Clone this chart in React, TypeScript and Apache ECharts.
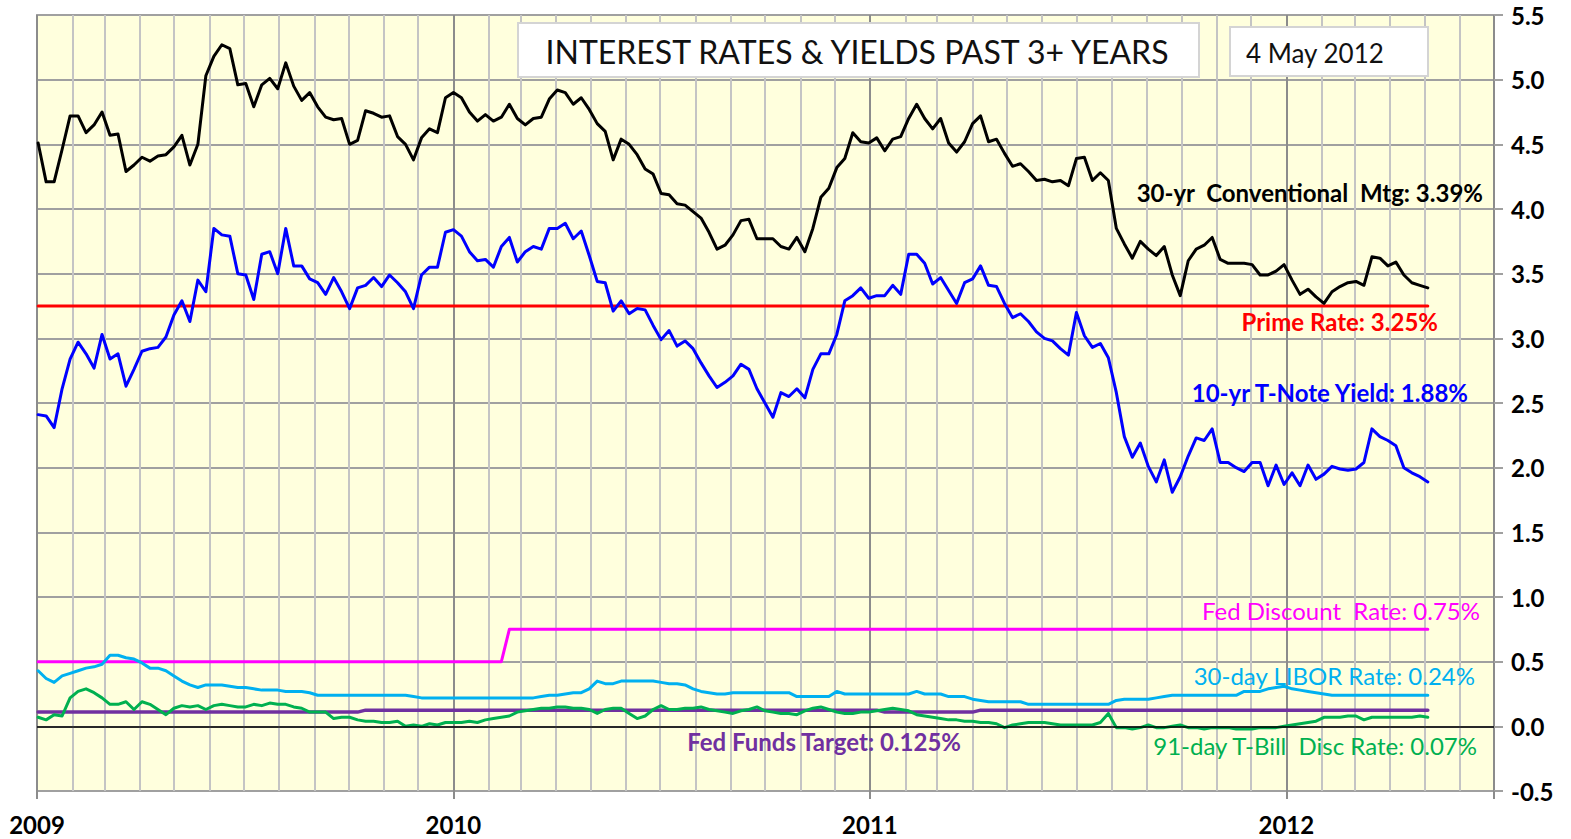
import { useEffect, useRef } from 'react';
import * as echarts from 'echarts';

// ---------------- DATA ----------------
// Weekly observations (Fridays) from 2 Jan 2009 to 4 May 2012
const FIRST_WEEK = [2009, 0, 2];
const WEEK_COUNT = 175;

const MORTGAGE_30YR = [
  4.51, 4.21, 4.21, 4.46, 4.72, 4.72, 4.59, 4.65, 4.75, 4.57, 4.58, 4.29, 4.34, 4.40, 4.37, 4.41, 4.42, 4.48, 4.57, 4.34,
  4.50, 5.03, 5.18, 5.27, 5.24, 4.96, 4.97, 4.79, 4.96, 5.01, 4.93, 5.13, 4.95, 4.84, 4.90, 4.79, 4.71, 4.69, 4.70, 4.50,
  4.53, 4.76, 4.74, 4.71, 4.72, 4.56, 4.50, 4.38, 4.55, 4.62, 4.59, 4.86, 4.90, 4.86, 4.75, 4.68, 4.73, 4.68, 4.71, 4.81,
  4.70, 4.65, 4.70, 4.71, 4.85, 4.92, 4.90, 4.81, 4.86, 4.77, 4.66, 4.60, 4.38, 4.54, 4.50, 4.42, 4.31, 4.27, 4.12, 4.11,
  4.04, 4.03, 3.98, 3.93, 3.82, 3.69, 3.72, 3.80, 3.91, 3.92, 3.77, 3.77, 3.77, 3.71, 3.69, 3.78, 3.67, 3.85, 4.09, 4.16,
  4.32, 4.39, 4.59, 4.52, 4.51, 4.55, 4.45, 4.54, 4.56, 4.70, 4.81, 4.70, 4.62, 4.70, 4.51, 4.44, 4.52, 4.66, 4.72, 4.52,
  4.54, 4.43, 4.33, 4.35, 4.29, 4.22, 4.23, 4.21, 4.22, 4.18, 4.39, 4.40, 4.22, 4.28, 4.22, 3.85, 3.73, 3.62, 3.75, 3.69,
  3.64, 3.71, 3.49, 3.33, 3.60, 3.69, 3.72, 3.78, 3.61, 3.58, 3.58, 3.58, 3.57, 3.49, 3.49, 3.52, 3.57, 3.45, 3.34, 3.38,
  3.32, 3.27, 3.36, 3.40, 3.43, 3.44, 3.41, 3.63, 3.62, 3.56, 3.59, 3.49, 3.43, 3.41, 3.39,
];

const TNOTE_10YR = [
  2.41, 2.40, 2.31, 2.61, 2.84, 2.97, 2.88, 2.77, 3.03, 2.84, 2.88, 2.63, 2.76, 2.90, 2.92, 2.93, 3.01, 3.18, 3.29, 3.13,
  3.45, 3.36, 3.85, 3.80, 3.79, 3.50, 3.49, 3.30, 3.65, 3.67, 3.50, 3.85, 3.56, 3.56, 3.46, 3.43, 3.34, 3.47, 3.36, 3.23,
  3.39, 3.41, 3.47, 3.40, 3.49, 3.43, 3.36, 3.23, 3.49, 3.55, 3.55, 3.82, 3.84, 3.79, 3.67, 3.60, 3.61, 3.55, 3.71, 3.78,
  3.59, 3.67, 3.71, 3.69, 3.85, 3.85, 3.89, 3.77, 3.83, 3.64, 3.44, 3.43, 3.21, 3.29, 3.19, 3.23, 3.22, 3.10, 2.99, 3.06,
  2.94, 2.98, 2.92, 2.81, 2.71, 2.62, 2.66, 2.71, 2.80, 2.76, 2.61, 2.50, 2.39, 2.58, 2.55, 2.61, 2.54, 2.76, 2.88, 2.88,
  3.03, 3.29, 3.33, 3.39, 3.31, 3.33, 3.33, 3.41, 3.34, 3.65, 3.65, 3.58, 3.42, 3.47, 3.37, 3.27, 3.43, 3.46, 3.56, 3.41,
  3.40, 3.27, 3.16, 3.19, 3.13, 3.05, 3.00, 2.98, 2.92, 2.87, 3.20, 3.02, 2.93, 2.96, 2.85, 2.58, 2.24, 2.08, 2.19, 2.01,
  1.89, 2.06, 1.81, 1.93, 2.09, 2.23, 2.21, 2.30, 2.04, 2.04, 2.00, 1.97, 2.04, 2.04, 1.86, 2.02, 1.87, 1.96, 1.86, 2.02,
  1.91, 1.95, 2.01, 1.99, 1.98, 1.99, 2.04, 2.30, 2.24, 2.21, 2.17, 2.00, 1.96, 1.93, 1.89,
];

const LIBOR_30DAY = [
  0.43, 0.37, 0.34, 0.39, 0.41, 0.43, 0.45, 0.46, 0.48, 0.55, 0.55, 0.53, 0.52, 0.49, 0.45, 0.45, 0.43, 0.39, 0.35, 0.32,
  0.30, 0.32, 0.32, 0.32, 0.31, 0.30, 0.30, 0.29, 0.28, 0.28, 0.28, 0.27, 0.27, 0.27, 0.26, 0.24, 0.24, 0.24, 0.24, 0.24,
  0.24, 0.24, 0.24, 0.24, 0.24, 0.24, 0.24, 0.23, 0.22, 0.22, 0.22, 0.22, 0.22, 0.22, 0.22, 0.22, 0.22, 0.22, 0.22, 0.22,
  0.22, 0.22, 0.22, 0.23, 0.24, 0.24, 0.25, 0.26, 0.26, 0.29, 0.35, 0.33, 0.33, 0.35, 0.35, 0.35, 0.35, 0.35, 0.34, 0.33,
  0.33, 0.32, 0.29, 0.27, 0.26, 0.25, 0.25, 0.26, 0.26, 0.26, 0.26, 0.26, 0.26, 0.26, 0.26, 0.23, 0.23, 0.23, 0.23, 0.23,
  0.27, 0.25, 0.25, 0.25, 0.25, 0.25, 0.25, 0.25, 0.25, 0.25, 0.27, 0.25, 0.25, 0.25, 0.23, 0.23, 0.23, 0.21, 0.20, 0.19,
  0.19, 0.19, 0.19, 0.19, 0.17, 0.17, 0.17, 0.17, 0.17, 0.17, 0.17, 0.17, 0.17, 0.17, 0.17, 0.20, 0.21, 0.21, 0.21, 0.21,
  0.22, 0.23, 0.24, 0.24, 0.24, 0.24, 0.24, 0.24, 0.24, 0.24, 0.24, 0.27, 0.27, 0.27, 0.29, 0.30, 0.31, 0.29, 0.28, 0.27,
  0.26, 0.25, 0.24, 0.24, 0.24, 0.24, 0.24, 0.24, 0.24, 0.24, 0.24, 0.24, 0.24, 0.24, 0.24,
];

const TBILL_91DAY = [
  0.07, 0.05, 0.09, 0.08, 0.22, 0.27, 0.29, 0.26, 0.22, 0.17, 0.17, 0.19, 0.13, 0.19, 0.17, 0.13, 0.09, 0.14, 0.16, 0.15,
  0.16, 0.13, 0.16, 0.17, 0.16, 0.15, 0.15, 0.17, 0.16, 0.18, 0.17, 0.17, 0.15, 0.14, 0.11, 0.11, 0.11, 0.06, 0.07, 0.07,
  0.05, 0.04, 0.04, 0.03, 0.03, 0.04, 0.00, 0.01, 0.00, 0.02, 0.01, 0.03, 0.03, 0.03, 0.04, 0.03, 0.05, 0.06, 0.07, 0.08,
  0.11, 0.12, 0.13, 0.14, 0.14, 0.15, 0.15, 0.14, 0.14, 0.13, 0.10, 0.13, 0.14, 0.14, 0.10, 0.06, 0.08, 0.13, 0.16, 0.13,
  0.13, 0.14, 0.14, 0.15, 0.13, 0.12, 0.11, 0.10, 0.12, 0.13, 0.15, 0.12, 0.11, 0.10, 0.10, 0.09, 0.12, 0.14, 0.15, 0.13,
  0.11, 0.10, 0.10, 0.11, 0.11, 0.12, 0.13, 0.14, 0.13, 0.12, 0.09, 0.08, 0.07, 0.06, 0.05, 0.05, 0.04, 0.04, 0.03, 0.03,
  0.02, -0.01, 0.01, 0.02, 0.03, 0.03, 0.03, 0.02, 0.01, 0.01, 0.01, 0.01, 0.01, 0.03, 0.10, -0.01, -0.01, -0.02, -0.01, 0.01,
  -0.01, -0.01, 0.00, 0.01, -0.01, -0.01, -0.02, -0.01, -0.01, -0.01, -0.02, -0.02, -0.02, -0.01, -0.01, -0.01, 0.00, 0.01, 0.02, 0.03,
  0.04, 0.07, 0.07, 0.07, 0.08, 0.08, 0.05, 0.07, 0.07, 0.07, 0.07, 0.07, 0.07, 0.08, 0.07,
];

// Step-wise policy rates: [date, value]
const PRIME_RATE: [string, number][] = [['2009-01-02', 3.25], ['2012-05-04', 3.25]];
const FED_DISCOUNT: [string, number][] = [
  ['2009-01-02', 0.5], ['2010-02-12', 0.5], ['2010-02-19', 0.75], ['2012-05-04', 0.75],
];
const FED_FUNDS: [string, number][] = [
  ['2009-01-02', 0.11], ['2009-10-09', 0.11], ['2009-10-16', 0.125], ['2011-01-07', 0.125],
  ['2011-01-14', 0.11], ['2011-04-01', 0.11], ['2011-04-08', 0.125], ['2012-05-04', 0.125],
];

const X_START = [2009, 0, 1];
const X_END = [2012, 6, 1];
const Y_MIN = -0.5;
const Y_MAX = 5.5;
const Y_STEP = 0.5;

const TITLE = 'INTEREST RATES & YIELDS PAST 3+ YEARS';
const DATE_LABEL = '4 May 2012';
const LABELS = {
  mortgage: '30-yr  Conventional  Mtg: 3.39%',
  prime: 'Prime Rate: 3.25%',
  tnote: '10-yr T-Note Yield: 1.88%',
  discount: 'Fed Discount  Rate: 0.75%',
  libor: '30-day LIBOR Rate: 0.24%',
  fedfunds: 'Fed Funds Target: 0.125%',
  tbill: '91-day T-Bill  Disc Rate: 0.07%',
};

// --------------------------------------
const DAY = 86400000;

function weeklyDates(): number[] {
  const out: number[] = [];
  for (let i = 0; i < WEEK_COUNT; i++) {
    out.push(new Date(FIRST_WEEK[0], FIRST_WEEK[1], FIRST_WEEK[2] + 7 * i).getTime());
  }
  return out;
}

function parseDate(s: string): number {
  const [y, m, d] = s.split('-').map(Number);
  return new Date(y, m - 1, d).getTime();
}

function pair(dates: number[], vals: number[]) {
  return vals.map((v, i) => [dates[i], v]);
}

function steps(pts: [string, number][]) {
  return pts.map(([d, v]) => [parseDate(d), v]);
}

export default function App() {
  const ref = useRef<HTMLDivElement>(null);

  useEffect(() => {
    if (!ref.current) return;
    const chart = echarts.init(ref.current, undefined, { renderer: 'svg' });
    const dates = weeklyDates();
    const xMin = new Date(X_START[0], X_START[1], X_START[2]).getTime();
    const xMax = new Date(X_END[0], X_END[1], X_END[2]).getTime();

    const line = (name: string, data: any[], color: string, width: number, z = 2) => ({
      name,
      type: 'line',
      data,
      xAxisIndex: 0,
      yAxisIndex: 0,
      showSymbol: false,
      symbol: 'none',
      silent: true,
      z,
      lineStyle: { color, width, join: 'round', cap: 'round' },
      itemStyle: { color },
      emphasis: { disabled: true },
    });

    const labelFont = (bold: boolean) => `${bold ? 'bold' : 'normal'} 24px Lato`;
    const txt = (text: string, x: number, y: number, fill: string, bold = true) => ({
      type: 'text',
      x,
      y,
      z: 100,
      silent: true,
      style: {
        text,
        fill,
        font: labelFont(bold),
        align: 'right',
        verticalAlign: 'middle',
        textAlign: 'right',
        textVerticalAlign: 'middle',
      },
    });

    const option: any = {
      animation: false,
      backgroundColor: '#ffffff',
      textStyle: { fontFamily: 'Lato' },
      grid: {
        left: 37,
        right: 77,
        top: 15,
        bottom: 48,
        show: true,
        backgroundColor: '#FFFFDD',
        borderColor: '#A6A6A6',
        borderWidth: 2,
      },
      xAxis: [
        {
          type: 'time',
          min: xMin,
          max: xMax,
          minInterval: 32 * DAY,
          maxInterval: 32 * DAY,
          splitNumber: 40,
          axisLine: { show: false },
          axisTick: { show: false },
          axisLabel: { show: false },
          splitLine: { show: true, lineStyle: { color: '#C4C4C4', width: 2 } },
        },
        {
          type: 'time',
          min: xMin,
          max: xMax,
          minInterval: 366 * DAY,
          maxInterval: 366 * DAY,
          position: 'bottom',
          axisLine: { show: false },
          axisTick: { show: true, length: 8, lineStyle: { color: '#8C8C8C', width: 2 } },
          axisLabel: {
            show: true,
            hideOverlap: false,
            showMinLabel: true,
            showMaxLabel: true,
            margin: 21,
            fontFamily: 'Lato',
            fontWeight: 'bold',
            fontSize: 24,
            color: '#000',
            formatter: (val: number) => {
              const d = new Date(val);
              return d.getMonth() === 0 && d.getDate() === 1 ? String(d.getFullYear()) : '';
            },
          },
          splitLine: { show: true, lineStyle: { color: '#8C8C8C', width: 2 } },
        },
      ],
      yAxis: {
        type: 'value',
        position: 'right',
        min: Y_MIN,
        max: Y_MAX,
        interval: Y_STEP,
        axisLine: { show: false },
        axisTick: { show: true, length: 9, lineStyle: { color: '#A0A0A0', width: 2 } },
        axisLabel: {
          margin: 17,
          fontFamily: 'Lato',
          fontWeight: 'bold',
          fontSize: 24,
          color: '#000',
          formatter: (v: number) => v.toFixed(1),
        },
        splitLine: { show: true, lineStyle: { color: '#A0A0A0', width: 2 } },
      },
      series: [
        {
          ...line('zero', [], '#000', 1, 1),
          markLine: {
            silent: true,
            symbol: 'none',
            label: { show: false },
            lineStyle: { color: '#000', width: 1.5, type: 'solid' },
            data: [{ yAxis: 0 }],
          },
        },
        line('Fed Discount Rate', steps(FED_DISCOUNT), '#FF00FF', 3),
        line('30-day LIBOR', pair(dates, LIBOR_30DAY), '#00B0F0', 3),
        line('Fed Funds Target', steps(FED_FUNDS), '#7030A0', 3.5),
        line('91-day T-Bill', pair(dates, TBILL_91DAY), '#00B050', 3),
        line('Prime Rate', steps(PRIME_RATE), '#FF0000', 3),
        line('10-yr T-Note', pair(dates, TNOTE_10YR), '#0000FF', 3),
        line('30-yr Mortgage', pair(dates, MORTGAGE_30YR), '#000000', 3),
      ],
      graphic: [
        {
          type: 'rect',
          z: 90,
          silent: true,
          shape: { x: 518, y: 23, width: 681, height: 54 },
          style: { fill: '#ffffff', stroke: '#D4D4D4', lineWidth: 2 },
        },
        {
          type: 'text',
          z: 100,
          x: 857,
          y: 51,
          silent: true,
          style: {
            text: TITLE,
            fill: '#111',
            font: 'normal 32px Lato',
            align: 'center',
            verticalAlign: 'middle',
            textAlign: 'center',
            textVerticalAlign: 'middle',
          },
        },
        {
          type: 'rect',
          z: 90,
          silent: true,
          shape: { x: 1230, y: 27, width: 198, height: 49 },
          style: { fill: '#ffffff', stroke: '#D4D4D4', lineWidth: 2 },
        },
        {
          type: 'text',
          z: 100,
          x: 1246,
          y: 53,
          silent: true,
          style: {
            text: DATE_LABEL,
            fill: '#111',
            font: 'normal 26px Lato',
            align: 'left',
            verticalAlign: 'middle',
            textAlign: 'left',
            textVerticalAlign: 'middle',
          },
        },
        txt(LABELS.mortgage, 1483, 192, '#000000'),
        txt(LABELS.prime, 1438, 321, '#FF0000'),
        txt(LABELS.tnote, 1468, 392, '#0000FF'),
        txt(LABELS.discount, 1480, 610, '#FF00FF', false),
        txt(LABELS.libor, 1475, 675, '#00B0F0', false),
        txt(LABELS.fedfunds, 961, 741, '#7030A0'),
        txt(LABELS.tbill, 1477, 745, '#00B050', false),
      ],
    };

    chart.setOption(option);
    return () => chart.dispose();
  }, []);

  return (
    <div
      ref={ref}
      style={{ position: 'fixed', left: 0, top: 0, width: 1571, height: 839, background: '#fff' }}
    />
  );
}
